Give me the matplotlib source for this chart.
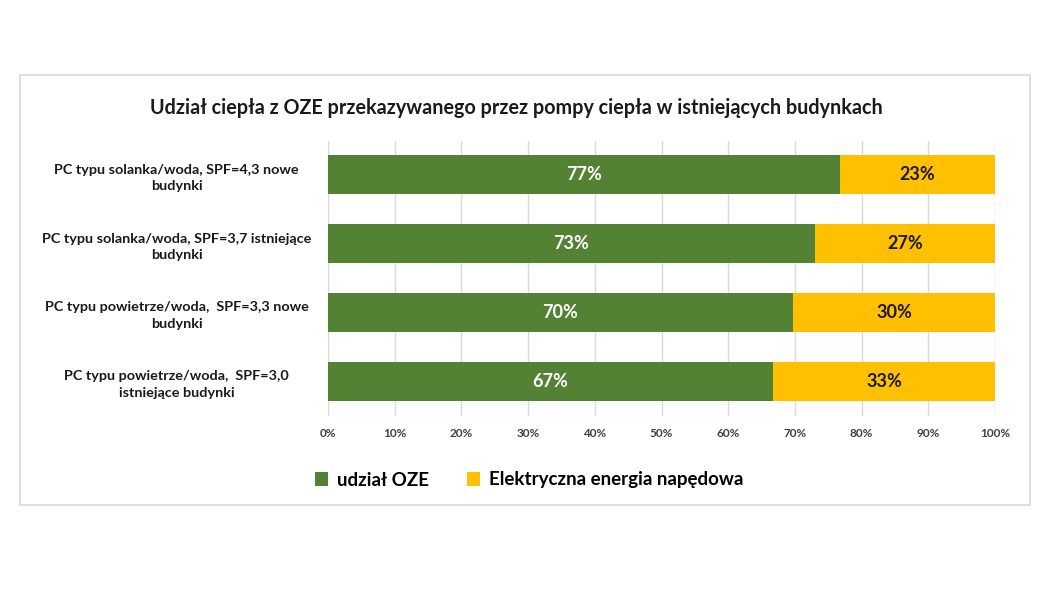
import matplotlib.pyplot as plt
from matplotlib.patches import Rectangle

categories = [
    "PC typu solanka/woda, SPF=4,3 nowe\nbudynki",
    "PC typu solanka/woda, SPF=3,7 istniejące\nbudynki",
    "PC typu powietrze/woda,  SPF=3,3 nowe\nbudynki",
    "PC typu powietrze/woda,  SPF=3,0\nistniejące budynki",
]
oze_share = [76.7, 73.0, 69.7, 66.7]
electric_share = [23.3, 27.0, 30.3, 33.3]
oze_labels = ["77%", "73%", "70%", "67%"]
electric_labels = ["23%", "27%", "30%", "33%"]
series_names = ["udział OZE", "Elektryczna energia napędowa"]
xticks = [0, 10, 20, 30, 40, 50, 60, 70, 80, 90, 100]

green = "#548235"
yellow = "#FFC000"

plt.rcParams['font.family'] = ['Lato', 'DejaVu Sans']

W, H = 1050, 590
fig = plt.figure(figsize=(W / 100, H / 100), dpi=100)
fig.patch.set_facecolor("white")

# chart frame
fig.patches.append(Rectangle((20 / W, 1 - 505 / H), 1010 / W, 430 / H,
                             transform=fig.transFigure, fill=False,
                             edgecolor="#d9d9d9", linewidth=1.2))

ax = fig.add_axes([328 / W, 1 - 415.5 / H, 667 / W, 275 / H])
y = list(range(len(categories)))
ax.barh(y, oze_share, height=0.57, color=green, label=series_names[0], zorder=3)
ax.barh(y, electric_share, left=oze_share, height=0.57, color=yellow,
        label=series_names[1], zorder=3)

for i in y:
    ax.text(oze_share[i] / 2, i, oze_labels[i], ha="center", va="center",
            color="white", fontsize=13, fontweight="bold", zorder=4)
    ax.text(oze_share[i] + electric_share[i] / 2, i, electric_labels[i],
            ha="center", va="center", color="#1a1a1a", fontsize=13,
            fontweight="bold", zorder=4)

ax.set_xlim(0, 100)
ax.set_ylim(3.5, -0.5)
ax.set_xticks(xticks)
ax.set_xticklabels([f"{t}%" for t in xticks], fontsize=8.5, fontweight="bold",
                   color="#404040")
ax.set_yticks(y)
ax.set_yticklabels(categories, fontsize=10.4, fontweight="bold",
                   color="#1a1a1a", ha="center", linespacing=1.45)
ax.tick_params(axis="y", length=0, pad=109)
ax.tick_params(axis="x", length=0, pad=9)
ax.grid(axis="x", color="#d9d9d9", linewidth=1, zorder=0)
for s in ax.spines.values():
    s.set_visible(False)

fig.text(516 / W, 1 - 108 / H,
         "Udział ciepła z OZE przekazywanego przez pompy ciepła w istniejących budynkach",
         ha="center", va="center", fontsize=14.2, fontweight="bold", color="#1a1a1a")

fig.legend(loc="center", bbox_to_anchor=(529 / W, 1 - 480 / H), ncol=2,
           frameon=False, handlelength=0.7, handleheight=0.7,
           handletextpad=0.5, columnspacing=2.0,
           prop={"size": 13.5, "weight": "bold"})

fig.savefig("out.png", dpi=100, facecolor="white")
